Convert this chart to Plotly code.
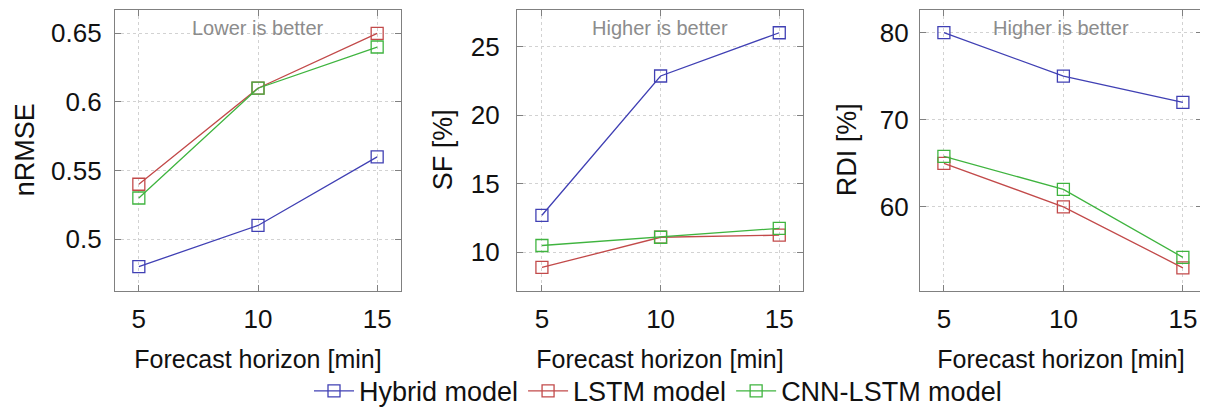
import plotly.graph_objects as go
from plotly.subplots import make_subplots

horizons = [5, 10, 15]
models = ["Hybrid model", "LSTM model", "CNN-LSTM model"]
colors = ["#4040b4", "#c24a4a", "#3fb43f"]

nrmse = {
    "Hybrid model": [0.48, 0.51, 0.56],
    "LSTM model": [0.54, 0.61, 0.65],
    "CNN-LSTM model": [0.53, 0.61, 0.64],
}
sf = {
    "Hybrid model": [12.7, 22.85, 26.0],
    "LSTM model": [8.9, 11.1, 11.25],
    "CNN-LSTM model": [10.5, 11.1, 11.75],
}
rdi = {
    "Hybrid model": [80.0, 75.0, 72.0],
    "LSTM model": [65.0, 60.0, 53.0],
    "CNN-LSTM model": [65.8, 62.0, 54.2],
}

metrics = [nrmse, sf, rdi]
y_titles = ["nRMSE", "SF [%]", "RDI [%]"]
notes = ["Lower is better", "Higher is better", "Higher is better"]
y_ticks = [[0.5, 0.55, 0.6, 0.65], [10, 15, 20, 25], [60, 70, 80]]
y_ticktext = [["0.5", "0.55", "0.6", "0.65"], ["10", "15", "20", "25"], ["60", "70", "80"]]
y_ranges = [[0.462, 0.667], [7.16, 27.66], [50.3, 82.6]]
x_ranges = [[4.0, 16.0], [3.95, 16.0], [4.0, 15.8]]

# The page body has an 8px margin, so the figure is 8px smaller than the window
OFF = 8
W, H = 1208 - OFF, 416 - OFF


def px_x(X):
    return (X - OFF) / W


def px_y(Y):
    return 1 - (Y - OFF) / H


x_domains = [[px_x(115), px_x(401)], [px_x(517), px_x(803)], [px_x(920), px_x(1202)]]
y_domain = [px_y(297), px_y(10)]
ytick_standoffs = [7, 11, 5]
ytitle_x = [25, 443, 847]

FONT = "Liberation Sans, Arial, sans-serif"
TXT = "#111111"

fig = make_subplots(rows=1, cols=3)

for i, data in enumerate(metrics):
    for m, c in zip(models, colors):
        fig.add_trace(
            go.Scatter(
                x=horizons,
                y=data[m],
                mode="lines+markers",
                name=m,
                legendgroup=m,
                showlegend=(i == 0),
                line=dict(color=c, width=1.3),
                marker=dict(symbol="square-open", size=12, color=c, line=dict(width=1.3, color=c)),
            ),
            row=1,
            col=i + 1,
        )

axis_common = dict(
    showline=True,
    linecolor="#808080",
    linewidth=1.2,
    mirror="ticks",
    ticks="inside",
    ticklen=6,
    tickcolor="#808080",
    tickwidth=1,
    showgrid=True,
    gridcolor="#d2d2d2",
    gridwidth=1,
    griddash="dot",
    zeroline=False,
    tickfont=dict(family=FONT, size=26, color=TXT),
    automargin=False,
)

for i in range(3):
    xa = "xaxis" if i == 0 else f"xaxis{i + 1}"
    ya = "yaxis" if i == 0 else f"yaxis{i + 1}"
    fig.layout[xa].update(
        **axis_common,
        domain=x_domains[i],
        range=x_ranges[i],
        tickvals=horizons,
        ticklabelstandoff=4,
        title=dict(text="Forecast horizon [min]", font=dict(family=FONT, size=25, color=TXT), standoff=17),
    )
    fig.layout[ya].update(
        **axis_common,
        domain=y_domain,
        range=y_ranges[i],
        tickvals=y_ticks[i],
        ticktext=y_ticktext[i],
        ticklabelstandoff=ytick_standoffs[i],
    )
    xref = "x domain" if i == 0 else f"x{i + 1} domain"
    fig.add_annotation(
        text=notes[i],
        xref=xref,
        yref="paper",
        x=0.5,
        y=px_y(28),
        xanchor="center",
        yanchor="middle",
        showarrow=False,
        font=dict(family=FONT, size=20, color="#8c8c8c"),
    )
    fig.add_annotation(
        text=y_titles[i],
        xref="paper",
        yref="paper",
        x=px_x(ytitle_x[i]),
        y=px_y(153),
        xanchor="center",
        yanchor="middle",
        textangle=-90,
        showarrow=False,
        font=dict(family=FONT, size=27, color=TXT),
    )

fig.update_layout(
    width=W,
    height=H,
    margin=dict(l=0, r=0, t=0, b=0),
    paper_bgcolor="white",
    plot_bgcolor="white",
    font=dict(family=FONT, size=26, color=TXT),
    legend=dict(
        orientation="h",
        x=px_x(658),
        xanchor="center",
        y=px_y(399),
        yanchor="middle",
        font=dict(family=FONT, size=27, color=TXT),
        itemwidth=40,
        bgcolor="rgba(255,255,255,0)",
    ),
)

fig.write_html("out.html")
